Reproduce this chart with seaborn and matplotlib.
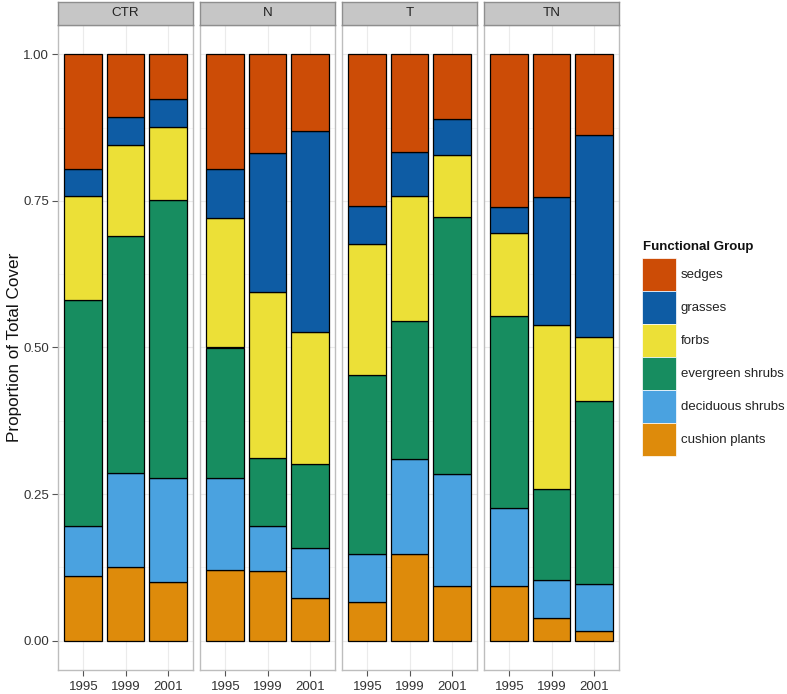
import numpy as np
import pandas as pd
import matplotlib
matplotlib.use("Agg")
import matplotlib.pyplot as plt
import seaborn as sns
from matplotlib.patches import Patch

treatments = ["CTR", "N", "T", "TN"]
years = ["1995", "1999", "2001"]
groups = ["sedges", "grasses", "forbs", "evergreen shrubs",
          "deciduous shrubs", "cushion plants"]

# proportion of total cover
# order: CTR 1995/1999/2001, N 1995/1999/2001, T ..., TN ...
sedges = [0.196, 0.107, 0.076, 0.196, 0.168, 0.131,
          0.259, 0.167, 0.110, 0.261, 0.244, 0.138]
grasses = [0.045, 0.047, 0.048, 0.084, 0.238, 0.342,
           0.064, 0.074, 0.061, 0.044, 0.218, 0.344]
forbs = [0.178, 0.156, 0.124, 0.220, 0.282, 0.225,
         0.224, 0.214, 0.107, 0.142, 0.279, 0.109]
evergreen = [0.386, 0.404, 0.474, 0.222, 0.117, 0.144,
             0.306, 0.235, 0.438, 0.326, 0.155, 0.312]
deciduous = [0.085, 0.160, 0.178, 0.158, 0.076, 0.086,
             0.081, 0.163, 0.191, 0.134, 0.065, 0.080]
cushion = [0.110, 0.126, 0.100, 0.120, 0.119, 0.072,
           0.066, 0.147, 0.093, 0.093, 0.039, 0.017]

colors = {"sedges": "#CC4C06", "grasses": "#0E5CA4", "forbs": "#ECE037",
          "evergreen shrubs": "#178D60", "deciduous shrubs": "#4AA2E0",
          "cushion plants": "#DE8B0B"}

# long format table
rows = []
for g, vals in zip(groups, [sedges, grasses, forbs, evergreen, deciduous, cushion]):
    for i, v in enumerate(vals):
        rows.append({"treatment": treatments[i // 3], "year": years[i % 3],
                     "yr_idx": i % 3, "group": g, "prop": v})
df = pd.DataFrame(rows)

sns.set_theme(style="white")
plt.rcParams["font.family"] = ["Liberation Sans", "DejaVu Sans"]

W, H = 787, 694
fig = plt.figure(figsize=(W / 100, H / 100), dpi=100)


def px_axes(x0, y0, w, h):
    return fig.add_axes([x0 / W, 1 - (y0 + h) / H, w / W, h / H])


for k, trt in enumerate(treatments):
    left = 58 + k * 142
    ax = px_axes(left, 25, 135, 645)
    sub = df[df["treatment"] == trt]
    sns.histplot(data=sub, x="yr_idx", weights="prop", hue="group",
                 hue_order=groups, palette=colors, multiple="stack",
                 discrete=True, shrink=0.9, edgecolor="black", linewidth=0.9,
                 alpha=1, legend=False, ax=ax)
    ax.set_xlim(-0.6, 2.6)
    ax.set_ylim(-0.05, 1.05)
    ax.set_xticks([0, 1, 2])
    ax.set_xticklabels(years)
    ax.set_yticks([0, 0.25, 0.5, 0.75, 1.0])
    ax.set_yticks([0.125, 0.375, 0.625, 0.875], minor=True)
    ax.set_axisbelow(True)
    ax.grid(True, which="major", color="#EBEBEB", linewidth=0.8)
    ax.grid(True, which="minor", axis="y", color="#F3F3F3", linewidth=0.5)
    ax.set_xlabel("")
    ax.set_ylabel("")
    for s in ax.spines.values():
        s.set_color("#BDBDBD")
        s.set_linewidth(1.0)
    ax.tick_params(axis="x", which="major", length=4.5, width=0.8, color="#555555",
                   labelsize=9.5, labelcolor="#333333", pad=3.5, bottom=True)
    ax.tick_params(axis="y", which="both", left=(k == 0), length=4.5, width=0.8,
                   color="#555555", labelsize=9.5, labelcolor="#333333", pad=2)
    ax.tick_params(axis="y", which="minor", length=0)
    if k == 0:
        ax.set_yticklabels(["0.00", "0.25", "0.50", "0.75", "1.00"])
    else:
        ax.set_yticklabels([])

    # facet strip
    sax = px_axes(left, 2, 135, 23)
    sax.set_facecolor("#C6C6C6")
    sax.set_xticks([])
    sax.set_yticks([])
    for s in sax.spines.values():
        s.set_color("#8E8E8E")
        s.set_linewidth(1.0)
    sax.text(0.5, 0.5, trt, ha="center", va="center", fontsize=9.6,
             color="#222222", transform=sax.transAxes)

fig.text(15 / W, 1 - 347.5 / H, "Proportion of Total Cover", rotation=90,
         ha="center", va="center", fontsize=12.3, color="#111111")

# legend
fig.text(643 / W, 1 - 247 / H, "Functional Group", ha="left", va="center",
         fontsize=9.5, fontweight="bold", color="#111111")
handles = [Patch(facecolor=colors[g], edgecolor="white", linewidth=0.5, label=g)
           for g in groups]
fig.legend(handles=handles, loc="upper left",
           bbox_to_anchor=(642 / W, 1 - 258 / H), frameon=False,
           fontsize=9.5, handlelength=2.58, handleheight=3.47, labelspacing=0,
           handletextpad=0.35, borderpad=0, borderaxespad=0, labelcolor="#222222")

fig.savefig("out.png", dpi=100)
